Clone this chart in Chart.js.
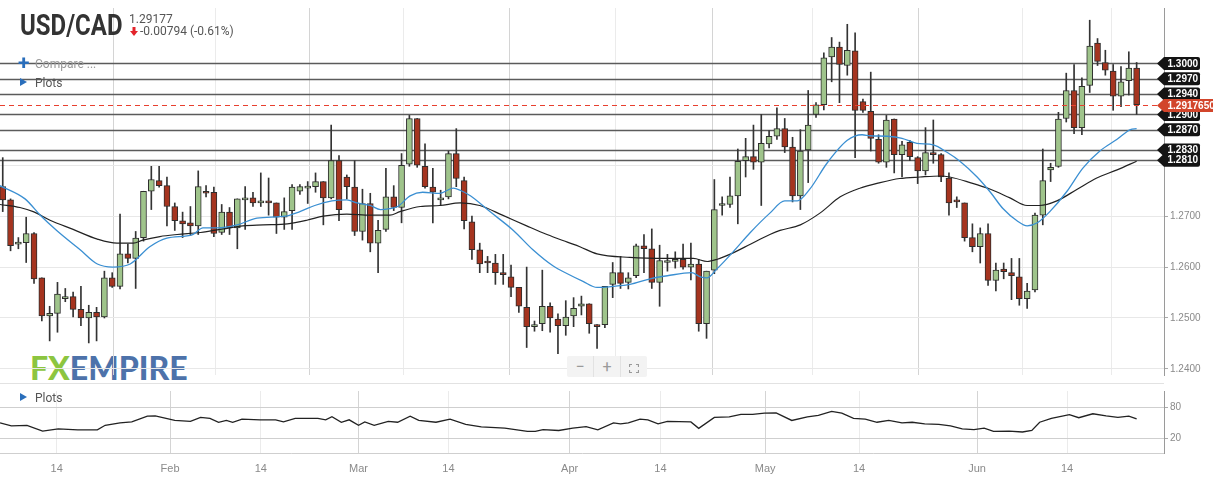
<!DOCTYPE html>
<html>
<head>
<meta charset="utf-8">
<title>USD/CAD</title>
<script src="https://cdn.jsdelivr.net/npm/chart.js@4.4.0/dist/chart.umd.min.js"></script>
<style>
  body { margin: 0; width: 1213px; height: 481px; overflow: hidden; background: #fff; position: relative;
         font-family: Roboto, "Liberation Sans", Arial, sans-serif; }
  canvas { position: absolute; left: 0; }
  #priceCanvas { top: 0; }
  #oscCanvas { top: 383px; }
  .abs { position: absolute; white-space: nowrap; }
  #logo { left: 30px; top: 352px; font-family: Lato, sans-serif; font-weight: 900; font-size: 32px; line-height: 32px; letter-spacing: 0; }
  #logo .fx { color: #8cc540; }
  #logo .em { color: #4d72aa; }
  #pair { left: 20px; top: 10px; font-size: 30px; line-height: 30px; font-weight: 700; color: #333; transform: scaleX(0.8); transform-origin: 0 0; }
  #last { left: 129px; top: 13px; font-size: 12px; line-height: 12px; color: #555; }
  #chg { left: 140px; top: 25px; font-size: 12px; line-height: 12px; color: #555; }
  #arrow { left: 130px; top: 27px; }
  .plus { left: 18px; top: 53px; font-size: 21px; line-height: 21px; font-weight: 700; color: #2a6ebb; }
  .menu { font-size: 12px; line-height: 12px; }
  #compare { left: 35px; top: 58px; color: #999; }
  .tri { width: 0; height: 0; border-left: 7px solid #2a6ebb; border-top: 4.5px solid transparent; border-bottom: 4.5px solid transparent; }
  #zoomBox { left: 567px; top: 356px; width: 80px; height: 21px; background: #f3f3f3; border-radius: 2px; display: flex; }
  #zoomBox div { flex: 1; text-align: center; color: #9a9a9a; font-size: 16px; line-height: 21px; }
  #zoomBox div + div { border-left: 1px solid #e2e2e2; }
  #sep { left: 0; top: 383px; width: 1164px; height: 1px; background: #e2e2e2; }
</style>
</head>
<body>
<div id="logo" class="abs"><span class="fx">FX</span><span class="em">EMPIRE</span></div>
<canvas id="priceCanvas" width="1213" height="383"></canvas>
<canvas id="oscCanvas" width="1213" height="98"></canvas>
<div id="sep" class="abs"></div>

<div id="pair" class="abs">USD/CAD</div>
<div id="last" class="abs">1.29177</div>
<svg id="arrow" class="abs" width="8" height="10"><rect x="2.5" y="0" width="3" height="5" fill="#e3242b"/><polygon points="0,4 8,4 4,9" fill="#e3242b"/></svg>
<div id="chg" class="abs">-0.00794 (-0.61%)</div>
<div class="abs plus">+</div>
<div id="compare" class="abs menu">Compare ...</div>
<div class="abs tri" style="left:20px;top:78px"></div>
<div class="abs menu" style="left:35px;top:77px;color:#555">Plots</div>
<div class="abs tri" style="left:20px;top:393px"></div>
<div class="abs menu" style="left:35px;top:392px;color:#555">Plots</div>
<div id="zoomBox" class="abs">
  <div>&minus;</div><div>+</div>
  <div><svg width="10" height="9" style="vertical-align:-1px"><path d="M0.5 3V0.5H3M7 0.5H9.5V3M9.5 6V8.5H7M3 8.5H0.5V6" fill="none" stroke="#9a9a9a" stroke-width="1.2"/></svg></div>
</div>

<script>
// daily candles, oldest first (Jan - Jun)
const opens = [
  1.2758, 1.2732, 1.2645, 1.2648, 1.2666, 1.2579, 1.2504, 1.2509, 1.2538, 1.2542,
  1.2517, 1.2500, 1.2511, 1.2502, 1.2579, 1.2562, 1.2626, 1.2617, 1.2658, 1.2749,
  1.2770, 1.2760, 1.2719, 1.2691, 1.2687, 1.2681, 1.2749, 1.2747, 1.2668, 1.2708,
  1.2677, 1.2732, 1.2736, 1.2726, 1.2730, 1.2726, 1.2698, 1.2711, 1.2749, 1.2755,
  1.2758, 1.2768, 1.2736, 1.2809, 1.2777, 1.2757, 1.2670, 1.2725, 1.2647, 1.2674,
  1.2738, 1.2717, 1.2802, 1.2892, 1.2798, 1.2757, 1.2732, 1.2738, 1.2823, 1.2770,
  1.2689, 1.2634, 1.2611, 1.2608, 1.2589, 1.2581, 1.2560, 1.2521, 1.2483, 1.2489,
  1.2523, 1.2498, 1.2485, 1.2504, 1.2523, 1.2528, 1.2487, 1.2487, 1.2566, 1.2589,
  1.2570, 1.2583, 1.2642, 1.2636, 1.2570, 1.2609, 1.2611, 1.2615, 1.2600, 1.2606,
  1.2489, 1.2594, 1.2721, 1.2723, 1.2740, 1.2809, 1.2817, 1.2806, 1.2842, 1.2857,
  1.2872, 1.2836, 1.2740, 1.2830, 1.2900, 1.2919, 1.3013, 1.3032, 1.2996, 1.3025,
  1.2925, 1.2906, 1.2851, 1.2806, 1.2891, 1.2821, 1.2845, 1.2815, 1.2789, 1.2825,
  1.2821, 1.2775, 1.2732, 1.2726, 1.2658, 1.2640, 1.2666, 1.2574, 1.2596, 1.2589,
  1.2581, 1.2538, 1.2555, 1.2702, 1.2791, 1.2798, 1.2892, 1.2947, 1.2874, 1.2957,
  1.3040, 1.3002, 1.2985, 1.2936, 1.2966, 1.2991
];
const highs = [
  1.2815, 1.2734, 1.2658, 1.2698, 1.2668, 1.2579, 1.2523, 1.2570, 1.2558, 1.2551,
  1.2562, 1.2525, 1.2521, 1.2592, 1.2589, 1.2704, 1.2645, 1.2670, 1.2749, 1.2798,
  1.2798, 1.2777, 1.2726, 1.2708, 1.2719, 1.2789, 1.2760, 1.2757, 1.2723, 1.2717,
  1.2734, 1.2758, 1.2747, 1.2785, 1.2775, 1.2726, 1.2736, 1.2762, 1.2762, 1.2768,
  1.2785, 1.2768, 1.2879, 1.2819, 1.2781, 1.2809, 1.2753, 1.2745, 1.2692, 1.2794,
  1.2760, 1.2823, 1.2898, 1.2892, 1.2842, 1.2794, 1.2751, 1.2828, 1.2872, 1.2777,
  1.2700, 1.2647, 1.2621, 1.2625, 1.2625, 1.2604, 1.2560, 1.2600, 1.2494, 1.2594,
  1.2530, 1.2508, 1.2534, 1.2540, 1.2543, 1.2528, 1.2487, 1.2562, 1.2609, 1.2621,
  1.2589, 1.2645, 1.2664, 1.2675, 1.2643, 1.2625, 1.2630, 1.2645, 1.2647, 1.2615,
  1.2592, 1.2772, 1.2738, 1.2777, 1.2832, 1.2853, 1.2879, 1.2900, 1.2868, 1.2913,
  1.2892, 1.2855, 1.2870, 1.2947, 1.2923, 1.3021, 1.3051, 1.3042, 1.3077, 1.3060,
  1.2930, 1.2983, 1.2860, 1.2898, 1.2891, 1.2847, 1.2849, 1.2817, 1.2874, 1.2889,
  1.2823, 1.2785, 1.2738, 1.2726, 1.2685, 1.2677, 1.2685, 1.2608, 1.2608, 1.2617,
  1.2617, 1.2568, 1.2706, 1.2832, 1.2804, 1.2904, 1.2981, 1.2998, 1.2972, 1.3085,
  1.3049, 1.3026, 1.2998, 1.2994, 1.3023, 1.3002
];
const lows = [
  1.2709, 1.2632, 1.2636, 1.2609, 1.2568, 1.2494, 1.2455, 1.2472, 1.2532, 1.2502,
  1.2485, 1.2451, 1.2455, 1.2500, 1.2560, 1.2557, 1.2608, 1.2558, 1.2651, 1.2713,
  1.2757, 1.2681, 1.2672, 1.2658, 1.2662, 1.2664, 1.2738, 1.2660, 1.2664, 1.2664,
  1.2636, 1.2674, 1.2719, 1.2719, 1.2702, 1.2666, 1.2674, 1.2674, 1.2743, 1.2725,
  1.2747, 1.2683, 1.2734, 1.2691, 1.2734, 1.2662, 1.2653, 1.2630, 1.2589, 1.2670,
  1.2711, 1.2687, 1.2798, 1.2796, 1.2755, 1.2687, 1.2721, 1.2734, 1.2758, 1.2675,
  1.2615, 1.2589, 1.2589, 1.2566, 1.2566, 1.2542, 1.2511, 1.2442, 1.2474, 1.2475,
  1.2472, 1.2430, 1.2466, 1.2483, 1.2506, 1.2470, 1.2440, 1.2481, 1.2540, 1.2558,
  1.2557, 1.2579, 1.2589, 1.2558, 1.2523, 1.2592, 1.2598, 1.2596, 1.2575, 1.2474,
  1.2460, 1.2587, 1.2702, 1.2717, 1.2685, 1.2777, 1.2792, 1.2721, 1.2834, 1.2851,
  1.2825, 1.2728, 1.2713, 1.2766, 1.2894, 1.2909, 1.2964, 1.2923, 1.2977, 1.2815,
  1.2904, 1.2828, 1.2804, 1.2796, 1.2785, 1.2777, 1.2809, 1.2764, 1.2781, 1.2804,
  1.2768, 1.2702, 1.2717, 1.2651, 1.2630, 1.2608, 1.2564, 1.2553, 1.2577, 1.2536,
  1.2525, 1.2519, 1.2551, 1.2683, 1.2768, 1.2796, 1.2885, 1.2862, 1.2860, 1.2943,
  1.2996, 1.2977, 1.2908, 1.2915, 1.2938, 1.2900
];
const closes = [
  1.2732, 1.2642, 1.2649, 1.2666, 1.2577, 1.2504, 1.2509, 1.2547, 1.2542, 1.2517,
  1.2500, 1.2511, 1.2502, 1.2579, 1.2562, 1.2626, 1.2617, 1.2657, 1.2749, 1.2772,
  1.2760, 1.2719, 1.2691, 1.2685, 1.2681, 1.2758, 1.2745, 1.2666, 1.2708, 1.2677,
  1.2734, 1.2736, 1.2726, 1.2730, 1.2726, 1.2698, 1.2709, 1.2757, 1.2758, 1.2758,
  1.2768, 1.2736, 1.2809, 1.2713, 1.2758, 1.2670, 1.2725, 1.2647, 1.2672, 1.2738,
  1.2717, 1.2800, 1.2892, 1.2800, 1.2758, 1.2747, 1.2736, 1.2823, 1.2774, 1.2691,
  1.2634, 1.2606, 1.2608, 1.2589, 1.2585, 1.2560, 1.2523, 1.2483, 1.2487, 1.2523,
  1.2500, 1.2485, 1.2502, 1.2519, 1.2528, 1.2489, 1.2483, 1.2562, 1.2589, 1.2568,
  1.2579, 1.2642, 1.2636, 1.2570, 1.2613, 1.2613, 1.2615, 1.2600, 1.2606, 1.2489,
  1.2592, 1.2713, 1.2725, 1.2740, 1.2808, 1.2817, 1.2806, 1.2843, 1.2857, 1.2872,
  1.2836, 1.2740, 1.2828, 1.2879, 1.2919, 1.3011, 1.3032, 1.2998, 1.3026, 1.2908,
  1.2908, 1.2853, 1.2806, 1.2889, 1.2821, 1.2840, 1.2817, 1.2789, 1.2825, 1.2821,
  1.2777, 1.2726, 1.2728, 1.2658, 1.2640, 1.2666, 1.2574, 1.2594, 1.2591, 1.2583,
  1.2538, 1.2553, 1.2702, 1.2770, 1.2796, 1.2891, 1.2947, 1.2874, 1.2955, 1.3034,
  1.3004, 1.2987, 1.2936, 1.2964, 1.2991, 1.2919
];

// moving averages (x = candle index)
const maFastX = [-0.35, 2.85, 4.8, 6.9, 9.9, 12.1, 14.1, 16.3, 18.8, 21.0, 24.3, 25.6, 27.4, 30.0, 32.5,
  36.1, 38.0, 39.9, 42.1, 44.0, 45.3, 47.0, 48.3, 49.5, 50.5, 52.1, 53.7, 55.9, 57.6, 58.5,
  59.8, 62.3, 65.3, 67.8, 70.4, 72.2, 74.2, 76.0, 78.0, 80.2, 82.8, 85.0, 88.1, 89.2, 90.1,
  91.3, 93.4, 95.6, 98.1, 100.0, 101.6, 103.2, 105.4, 108.0, 109.9, 110.9, 113.1, 115.0, 116.9, 119.0,
  120.8, 122.4, 124.6, 126.3, 127.9, 129.7, 131.0, 132.3, 133.9, 136.1, 138.1, 140.3, 142.5, 144.2, 145.0];
const maFastY = [1.2760, 1.2734, 1.2702, 1.2672, 1.2634, 1.2606, 1.2600, 1.2606, 1.2640, 1.2657, 1.2664, 1.2677, 1.2677, 1.2683, 1.2696,
  1.2700, 1.2709, 1.2721, 1.2730, 1.2732, 1.2726, 1.2721, 1.2713, 1.2715, 1.2719, 1.2740, 1.2747, 1.2745, 1.2755, 1.2751,
  1.2740, 1.2709, 1.2672, 1.2634, 1.2602, 1.2587, 1.2572, 1.2560, 1.2562, 1.2566, 1.2577, 1.2583, 1.2589, 1.2581, 1.2579,
  1.2596, 1.2630, 1.2668, 1.2706, 1.2730, 1.2730, 1.2753, 1.2804, 1.2849, 1.2860, 1.2858, 1.2857, 1.2853, 1.2843, 1.2840,
  1.2825, 1.2808, 1.2777, 1.2747, 1.2715, 1.2691, 1.2681, 1.2687, 1.2709, 1.2749, 1.2794, 1.2828, 1.2851, 1.2870, 1.2872];
const maSlowX = [-0.35, 2.2, 3.9, 6.05, 9.0, 12.1, 14.6, 16.7, 17.9, 20.1, 22.3, 25.3, 28.2, 30.7, 33.3,
  36.4, 38.9, 41.0, 44.0, 47.0, 49.5, 50.8, 53.4, 55.9, 58.5, 61.0, 63.9, 67.0, 69.6, 72.2,
  73.8, 76.0, 80.2, 85.0, 88.3, 90.1, 91.3, 93.4, 95.6, 98.1, 99.4, 102.0, 104.5, 107.1, 109.6,
  112.2, 114.7, 117.3, 119.9, 121.1, 123.7, 126.3, 128.8, 131.0, 132.6, 134.8, 137.4, 139.9, 142.5, 145.0];
const maSlowY = [1.2723, 1.2717, 1.2709, 1.2692, 1.2674, 1.2655, 1.2647, 1.2647, 1.2653, 1.2660, 1.2664, 1.2668, 1.2675, 1.2681, 1.2683,
  1.2685, 1.2692, 1.2700, 1.2704, 1.2702, 1.2702, 1.2709, 1.2719, 1.2721, 1.2726, 1.2721, 1.2702, 1.2681, 1.2664, 1.2649,
  1.2640, 1.2626, 1.2619, 1.2617, 1.2617, 1.2611, 1.2615, 1.2628, 1.2645, 1.2664, 1.2672, 1.2683, 1.2706, 1.2738, 1.2755,
  1.2766, 1.2774, 1.2777, 1.2779, 1.2777, 1.2766, 1.2753, 1.2736, 1.2721, 1.2721, 1.2730, 1.2753, 1.2775, 1.2791, 1.2808];

// lower pane oscillator
const oscX = [-0.35, 1.1, 3.1, 5.1, 7.1, 9.6, 12.1, 13.1, 15.0, 16.5,
  18.5, 19.5, 22.0, 24.0, 25.3, 26.5, 27.6, 28.6, 29.4, 30.6,
  32.9, 34.9, 35.9, 37.4, 40.3, 41.3, 42.1, 43.3, 44.3, 45.5,
  46.3, 47.5, 49.3, 50.5, 52.1, 53.2, 55.4, 57.2, 59.2, 61.2,
  64.2, 67.1, 68.1, 69.1, 71.1, 72.9, 74.6, 76.1, 78.1, 79.0,
  80.0, 81.5, 82.5, 83.8, 85.0, 88.0, 89.0, 91.0, 92.9, 94.4,
  95.9, 97.4, 98.9, 100.9, 102.9, 104.3, 106.0, 107.3, 108.8, 110.3,
  111.8, 113.3, 115.0, 116.3, 117.9, 119.7, 121.2, 122.7, 124.2, 125.5,
  126.7, 128.7, 130.4, 131.6, 132.6, 134.1, 136.4, 137.6, 139.4, 141.1,
  142.6, 144.0, 145.0];
const oscY = [50.6, 44.7, 45.9, 34.7, 38.8, 37.1, 37.1, 45.9, 50.6, 52.4,
  63.5, 64.1, 55.3, 53.5, 61.2, 59.4, 51.8, 55.3, 51.8, 57.7,
  56.5, 56.5, 52.4, 59.4, 59.4, 56.5, 62.4, 51.8, 56.5, 45.9,
  52.4, 45.9, 53.5, 51.8, 63.5, 55.3, 51.8, 57.7, 47.7, 43.0,
  40.6, 34.1, 34.1, 37.7, 35.9, 40.6, 43.5, 37.1, 50.6, 48.8,
  50.6, 57.7, 56.5, 48.8, 53.5, 52.4, 40.0, 61.2, 62.4, 67.1,
  67.1, 69.4, 70.0, 55.3, 62.4, 65.3, 72.9, 69.4, 59.4, 57.7,
  51.8, 55.3, 50.6, 51.8, 48.8, 47.7, 44.7, 38.8, 37.7, 40.6,
  34.1, 34.7, 33.0, 35.9, 51.8, 59.4, 66.5, 60.6, 68.2, 64.1,
  61.2, 63.5, 58.2];

// date ticks (as candle index) and their labels
const tickPos = [6.9, 21.4, 33.0, 45.5, 57.0, 72.5, 84.1, 97.5, 109.5, 124.6, 136.1];
const tickLabels = ['14', 'Feb', '14', 'Mar', '14', 'Apr', '14', 'May', '14', 'Jun', '14'];
const priceTicks = [1.24, 1.25, 1.26, 1.27, 1.28, 1.29, 1.30];
const oscTicks = [20, 80];

// horizontal levels and the last price
const levels = [1.3000, 1.2970, 1.2940, 1.2900, 1.2870, 1.2830, 1.2810];
const lastPrice = 1.291765;

const xMin = -0.35, xMax = 148.5;
const upColor = '#9fc48b', downColor = '#a5341f', edgeColor = '#2d2d2d';

function vGridColor(c) {
  return /^[A-Z]/.test(tickLabels[c.index] || '') ? '#d4d4d4' : '#ebebeb';
}

const levelPlugin = {
  id: 'levels',
  beforeDatasetsDraw(chart) {
    const { ctx, chartArea, scales: { y } } = chart;
    ctx.save();
    ctx.strokeStyle = '#5b5b5b';
    ctx.lineWidth = 1.6;
    levels.forEach(v => {
      const py = Math.round(y.getPixelForValue(v)) + 0.5;
      ctx.beginPath();
      ctx.moveTo(chartArea.left, py);
      ctx.lineTo(chartArea.right, py);
      ctx.stroke();
    });
    ctx.restore();
  },
  afterDatasetsDraw(chart) {
    const { ctx, chartArea, scales: { y } } = chart;
    ctx.save();
    ctx.strokeStyle = '#e8402f';
    ctx.lineWidth = 1.2;
    ctx.setLineDash([5, 4]);
    const ly = Math.round(y.getPixelForValue(lastPrice)) + 0.5;
    ctx.beginPath();
    ctx.moveTo(chartArea.left, ly);
    ctx.lineTo(chartArea.right, ly);
    ctx.stroke();
    ctx.restore();
  },
  afterDraw(chart) {
    const { ctx, chartArea, scales: { y } } = chart;
    const tip = chartArea.right - 7;
    ctx.save();
    ctx.font = 'bold 10px "Liberation Sans", Arial, sans-serif';
    ctx.textBaseline = 'middle';
    function tag(v, text, fill, right) {
      const py = y.getPixelForValue(v);
      const h = 6.5, x1 = chartArea.right;
      ctx.fillStyle = fill;
      ctx.beginPath();
      ctx.moveTo(tip, py);
      ctx.lineTo(x1, py - h);
      ctx.lineTo(right - 2, py - h);
      ctx.quadraticCurveTo(right, py - h, right, py - h + 2);
      ctx.lineTo(right, py + h - 2);
      ctx.quadraticCurveTo(right, py + h, right - 2, py + h);
      ctx.lineTo(x1, py + h);
      ctx.closePath();
      ctx.fill();
      ctx.fillStyle = '#fff';
      ctx.fillText(text, x1 + 3.5, py + 0.5);
    }
    levels.forEach(v => tag(v, v.toFixed(4), '#141414', chartArea.right + 36));
    tag(lastPrice, lastPrice.toFixed(7), '#d2452b', chartArea.right + 60);
    ctx.restore();
  }
};

const idx = opens.map((_, i) => i);

new Chart(document.getElementById('priceCanvas'), {
  type: 'bar',
  data: {
    datasets: [
      {
        type: 'line', label: 'MA fast', order: 1,
        data: maFastX.map((x, i) => ({ x, y: maFastY[i] })),
        borderColor: '#3a8fd2', borderWidth: 1.3, pointRadius: 0, cubicInterpolationMode: 'monotone'
      },
      {
        type: 'line', label: 'MA slow', order: 1,
        data: maSlowX.map((x, i) => ({ x, y: maSlowY[i] })),
        borderColor: '#222', borderWidth: 1.2, pointRadius: 0, cubicInterpolationMode: 'monotone'
      },
      {
        label: 'body', order: 2, grouped: false,
        data: idx.map(i => ({ x: i, y: [opens[i], closes[i]] })),
        backgroundColor: c => closes[c.dataIndex] >= opens[c.dataIndex] ? upColor : downColor,
        borderColor: edgeColor, borderWidth: 1, borderSkipped: false,
        barThickness: 6, minBarLength: 2
      },
      {
        label: 'wick', order: 3, grouped: false,
        data: idx.map(i => ({ x: i, y: [lows[i], highs[i]] })),
        backgroundColor: '#333', borderWidth: 0, barThickness: 1
      }
    ]
  },
  options: {
    responsive: false,
    animation: false,
    layout: { padding: 0 },
    plugins: { legend: { display: false }, tooltip: { enabled: false } },
    scales: {
      x: {
        type: 'linear', min: xMin, max: xMax, offset: false,
        afterBuildTicks: s => { s.ticks = tickPos.map(v => ({ value: v })); },
        afterFit: s => { s.height = 0; },
        ticks: { display: false },
        grid: { color: vGridColor, drawTicks: false },
        border: { display: false }
      },
      y: {
        position: 'right', min: 1.2388, max: 1.3109,
        afterBuildTicks: s => { s.ticks = priceTicks.map(v => ({ value: v })); },
        afterFit: s => { s.width = 49; },
        ticks: {
          padding: 2, color: '#8a8a8a',
          font: { family: '"Liberation Sans", Arial, sans-serif', size: 10 },
          callback: v => v < 1.275 ? v.toFixed(4) : ''
        },
        grid: { color: '#e8e8e8', tickLength: 4, tickColor: '#aaa' },
        border: { display: true, color: '#9a9a9a' }
      }
    }
  },
  plugins: [levelPlugin]
});

new Chart(document.getElementById('oscCanvas'), {
  type: 'line',
  data: {
    datasets: [{
      data: oscX.map((x, i) => ({ x, y: oscY[i] })),
      borderColor: '#222', borderWidth: 1.3, pointRadius: 0, tension: 0
    }]
  },
  options: {
    responsive: false,
    animation: false,
    layout: { padding: { top: 2 } },
    plugins: { legend: { display: false }, tooltip: { enabled: false } },
    scales: {
      x: {
        type: 'linear', min: xMin, max: xMax, offset: false,
        afterBuildTicks: s => { s.ticks = tickPos.map(v => ({ value: v })); },
        afterFit: s => { s.height = 28; },
        ticks: {
          padding: 9, color: '#8a8a8a', maxRotation: 0, autoSkip: false,
          font: { family: '"Liberation Sans", Arial, sans-serif', size: 11 },
          callback: (v, i) => tickLabels[i]
        },
        grid: { color: vGridColor, drawTicks: false },
        border: { display: true, color: '#cfcfcf' }
      },
      y: {
        position: 'right', min: -7.7, max: 112.3,
        afterBuildTicks: s => { s.ticks = oscTicks.map(v => ({ value: v })); },
        afterFit: s => { s.width = 49; },
        ticks: {
          padding: 2, color: '#8a8a8a',
          font: { family: '"Liberation Sans", Arial, sans-serif', size: 10 }
        },
        grid: { color: '#cfcfcf', tickLength: 4, tickColor: '#aaa' },
        border: { display: true, color: '#9a9a9a' }
      }
    }
  }
});
</script>
</body>
</html>
